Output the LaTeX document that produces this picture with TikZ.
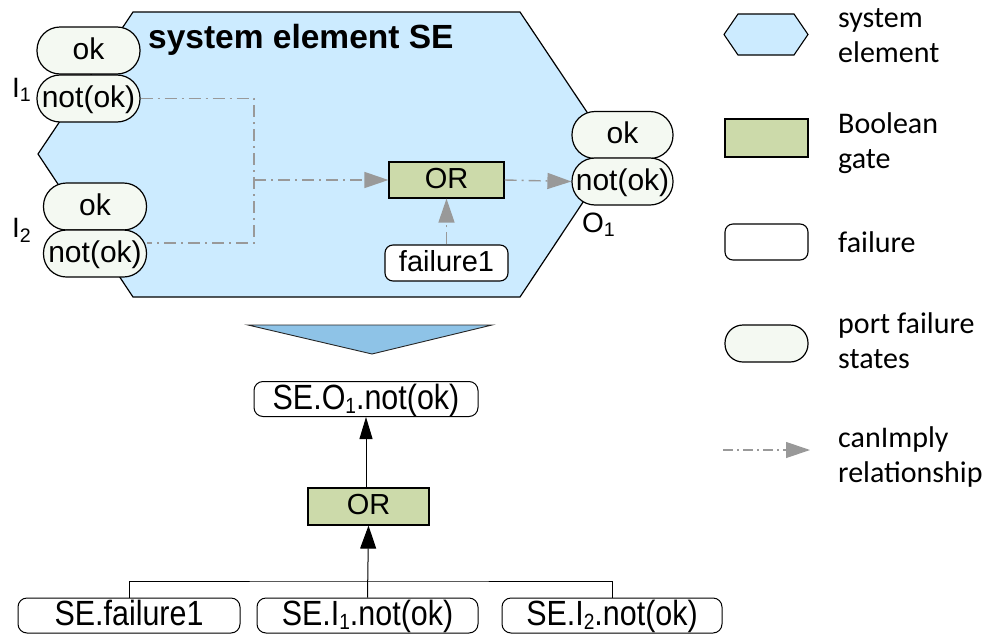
\documentclass[tikz,border=0pt]{standalone}
\usepackage{fontspec}
\setmainfont{Liberation Sans}
\newfontfamily\legendfont{Carlito}
\newfontfamily\narrowfont[FakeStretch=0.87]{Liberation Sans}
\usetikzlibrary{arrows.meta}
\definecolor{hexfill}{HTML}{CCEBFF}
\definecolor{portfill}{HTML}{F4F9F2}
\definecolor{gatefill}{HTML}{CCDAAA}
\definecolor{trifill}{HTML}{8EC3E7}
\definecolor{implygray}{HTML}{999999}
\newcommand\lowsub[1]{\raisebox{-4pt}{\fontsize{22}{22}\selectfont #1}}
\tikzset{
  port/.style={draw, inner sep=0pt, text height=22pt, text depth=5pt, line width=1.2pt, fill=portfill, rounded corners=23pt,
    minimum width=103pt, minimum height=47pt, font=\fontsize{30}{36}\selectfont},
  gate/.style={draw, inner sep=0pt, text height=21pt, text depth=4.5pt, line width=1.2pt, fill=gatefill, minimum width=115pt,
    minimum height=36pt, font=\fontsize{29}{34}\selectfont},
  failbox/.style={draw, inner sep=0pt, text height=21pt, text depth=4.5pt, line width=1.1pt, fill=white, rounded corners=8pt,
    minimum height=36pt, font=\fontsize{29}{34}\selectfont},
  bbox/.style={draw, inner sep=0pt, text height=25.5pt, text depth=5.5pt, line width=1pt, fill=white, rounded corners=9pt,
    minimum height=35pt, font=\narrowfont\fontsize{35}{40}\selectfont},
  imply/.style={draw=implygray, line width=1.4pt, dash pattern=on 12pt off 5pt on 2pt off 5pt},
  implyarrow/.style={imply, -{Triangle[length=24pt,width=16pt]}, color=implygray},
  lbl/.style={anchor=base west, inner sep=0pt, font=\fontsize{28}{32}\selectfont},
  legtxt/.style={anchor=base west, inner sep=0pt, font=\legendfont\fontsize{30}{35}\selectfont},
  blackarrow/.style={draw, line width=1pt, -{Triangle[length=22pt,width=13pt]}},
}
\begin{document}
\begin{tikzpicture}[x=1pt,y=-1pt]
\useasboundingbox (0,0) rectangle (991,635);
% system element hexagon
\draw[fill=hexfill, line width=1.2pt] (133,12) -- (520,12) -- (615,154) -- (520,297) -- (133,297) -- (38,154) -- cycle;
\node[anchor=base west, inner sep=0pt, font=\bfseries\fontsize{33.5}{38}\selectfont] (title) at (148,48) {system element SE};
% ports
\node[port] (ok1) at (88.5,50.5) {ok};
\node[port] (notok1) at (88.5,98.5) {not(ok)};
\node[port] (ok2) at (95,206.5) {ok};
\node[port] (notok2) at (95,253.5) {not(ok)};
\node[port, minimum width=101pt] (ook) at (622.5,135) {ok};
\node[port, minimum width=101pt] (onotok) at (622.5,181.5) {not(ok)};
\node[lbl] (li1) at (12,97) {I\textsubscript{1}};
\node[lbl] (li2) at (12,237) {I\textsubscript{2}};
\node[lbl] (lo1) at (582,232) {O\textsubscript{1}};
% gate and failure
\node[gate] (gor) at (446.5,180) {OR};
\node[failbox, minimum width=123pt] (f1) at (446.5,263) {failure1};
% canImply connectors
\coordinate (j1) at (254,98.5);
\coordinate (j2) at (254,243);
\coordinate (jm) at (254,180);
\draw[imply] (notok1.east) -- (j1) -- (j2) -- (notok2.east |- j2);
\draw[implyarrow] (jm) -- (gor.west);
\draw[implyarrow] (gor.east) -- (onotok.west);
\draw[implyarrow] (f1.north) -- (gor.south);
% transformation triangle
\draw[fill=trifill, line width=0.9pt, draw=black!85] (248,325) -- (492,325) -- (372,354) -- cycle;
% fault tree
\node[bbox, minimum width=224pt] (bO1) at (366,399) {SE.O\lowsub{1}.not(ok)};
\node[gate, minimum width=121pt, minimum height=37pt] (bor) at (368.5,506.5) {OR};
\node[bbox, minimum width=222pt] (bf1) at (129,615.5) {SE.failure1};
\node[bbox, minimum width=221pt] (bI1) at (367.5,615.5) {SE.I\lowsub{1}.not(ok)};
\node[bbox, minimum width=220pt] (bI2) at (612,615.5) {SE.I\lowsub{2}.not(ok)};
\coordinate (hb) at (367.5,581);
\draw[line width=1pt] (bf1.north) |- (hb) -| (bI2.north);
\draw[blackarrow, -{Triangle[length=23pt,width=16pt]}] (bI1.north) -- (bor.south);
\draw[blackarrow] (bor.north -| bO1.south) -- (bO1.south);
% legend
\draw[fill=hexfill, line width=1.1pt] (724,34.5) -- (738,14) -- (794,14) -- (808,34.5) -- (794,55) -- (738,55) -- cycle;
\node[gate, minimum width=83pt, minimum height=38pt] (lgate) at (766.5,138) {};
\node[failbox, minimum width=83pt, minimum height=36pt] (lfail) at (766.5,242) {};
\node[port, minimum width=83pt, minimum height=37pt, rounded corners=18pt] (lport) at (766.5,343.5) {};
\coordinate (la) at (723,450);
\coordinate (lb) at (810,450);
\draw[implyarrow, line width=1.2pt, dash pattern=on 10pt off 4pt on 2pt off 4pt] (la) -- (lb);
\node[legtxt] (t1a) at (838,27) {system};
\node[legtxt] (t1b) at (838,62) {element};
\node[legtxt] (t2a) at (838,133) {Boolean};
\node[legtxt] (t2b) at (838,168) {gate};
\node[legtxt] (t3a) at (838,252) {failure};
\node[legtxt] (t4a) at (838,333) {port failure};
\node[legtxt] (t4b) at (838,368) {states};
\node[legtxt] (t5a) at (838,447) {canImply};
\node[legtxt] (t5b) at (838,482) {relationship};
\end{tikzpicture}
\end{document}
